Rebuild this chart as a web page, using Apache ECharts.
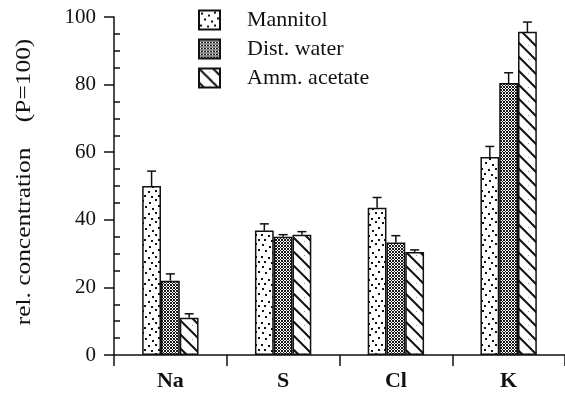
<!DOCTYPE html>
<html>
<head>
<meta charset="utf-8">
<script src="https://cdn.jsdelivr.net/npm/echarts@6/dist/echarts.min.js"></script>
<style>
  html, body { margin: 0; padding: 0; background: #fff; }
  #chart { width: 565px; height: 399px; }
</style>
</head>
<body>
<div id="chart"></div>
<script>
// Element groups and the three extraction media
const categories = ['Na', 'S', 'Cl', 'K'];
const seriesNames = ['Mannitol', 'Dist. water', 'Amm. acetate'];

// Relative concentration (P = 100)
const mannitol   = [50.0, 36.8, 43.6, 58.6];
const distWater  = [22.0, 35.0, 33.3, 80.5];
const ammAcetate = [11.0, 35.6, 30.5, 95.6];

// Upper error bar extents
const mannitolErr   = [4.4, 2.0, 3.0, 3.1];
const distWaterErr  = [2.0, 0.6, 2.0, 3.0];
const ammAcetateErr = [1.2, 0.9, 0.6, 2.9];

// Axis range and ticks
const yMin = 0, yMax = 100, yMajor = 20, yMinor = 5;
const minorTickValues = [5, 10, 15, 25, 30, 35, 45, 50, 55, 65, 70, 75, 85, 90, 95];

const serif = '"Liberation Serif", "Times New Roman", serif';
const ink = '#111';

function makeTile(w, h, draw) {
  const c = document.createElement('canvas');
  c.width = w; c.height = h;
  const g = c.getContext('2d');
  g.fillStyle = '#fff';
  g.fillRect(0, 0, w, h);
  draw(g, w, h);
  return c;
}

// Sparse stipple fill
const stippleDots = [[2,2],[9,4],[15,1],[5,8],[12,10],[18,7],[1,14],[8,15],[15,14],[4,19],[11,20],[18,19]];
const stippleTile = makeTile(20, 22, (g) => {
  g.fillStyle = ink;
  stippleDots.forEach(([x, y]) => g.fillRect(x, y, 2, 2));
});

// Dense mesh fill
const meshTile = makeTile(3, 3, (g) => {
  g.fillStyle = '#1a1a1a';
  [[0,0],[1,1],[2,2],[2,0],[0,2]].forEach(([x, y]) => g.fillRect(x, y, 1, 1));
});

// Descending diagonal hatch
const hatchTile = makeTile(14, 14, (g, w, h) => {
  g.strokeStyle = ink;
  g.lineWidth = 2;
  for (let x0 = -w; x0 <= w; x0 += w) {
    g.beginPath();
    g.moveTo(x0 - 1, -1);
    g.lineTo(x0 + w + 1, h + 1);
    g.stroke();
  }
  g.fillStyle = '#999';
  g.fillRect(10, 3, 1, 1);
});

const fills = [
  { image: stippleTile, repeat: 'repeat' },
  { image: meshTile, repeat: 'repeat' },
  { image: hatchTile, repeat: 'repeat' }
];

const values = [mannitol, distWater, ammAcetate];
const errors = [mannitolErr, distWaterErr, ammAcetateErr];

const barSeries = seriesNames.map((name, k) => ({
  type: 'bar',
  name: name,
  data: values[k],
  barGap: '0%',
  barCategoryGap: '50%',
  itemStyle: { color: fills[k], borderColor: ink, borderWidth: 1.5 },
  z: 2
}));

const errorSeries = seriesNames.map((name, k) => ({
  type: 'custom',
  data: categories.map((c, j) => [j, values[k][j], errors[k][j]]),
  encode: { x: 0, y: 1 },
  z: 3,
  silent: true,
  renderItem: function (params, api) {
    const cat = api.value(0);
    const v = api.value(1);
    const e = api.value(2);
    const base = api.coord([cat, v]);
    const top = api.coord([cat, v + e]);
    const bw = api.size([1, 0])[0] * 0.5 / 3;
    const x = base[0] + (k - 1) * bw;
    const st = { stroke: ink, lineWidth: 1.5 };
    return {
      type: 'group',
      children: [
        { type: 'line', shape: { x1: x, y1: base[1], x2: x, y2: top[1] }, style: st },
        { type: 'line', shape: { x1: x - 4.5, y1: top[1], x2: x + 4.5, y2: top[1] }, style: st }
      ]
    };
  }
}));

const chart = echarts.init(document.getElementById('chart'), null, { renderer: 'canvas' });
chart.setOption({
  animation: false,
  backgroundColor: '#fff',
  grid: { left: 114, right: 0, top: 17, bottom: 44, containLabel: false },
  legend: {
    data: seriesNames,
    orient: 'vertical',
    left: 198,
    top: 9,
    padding: 0,
    itemWidth: 21,
    itemHeight: 19,
    itemGap: 7,
    icon: 'rect',
    selectedMode: false,
    textStyle: { fontFamily: serif, fontSize: 22, color: ink, padding: [0, 0, 0, 22], lineHeight: 20 }
  },
  xAxis: {
    type: 'category',
    data: categories,
    boundaryGap: true,
    axisLine: { lineStyle: { color: ink, width: 1.5 } },
    axisTick: { show: true, length: 11, alignWithLabel: false, lineStyle: { color: ink, width: 1.5 } },
    axisLabel: { fontFamily: serif, fontWeight: 'bold', fontSize: 22, color: ink, margin: 15 },
    splitLine: { show: false }
  },
  yAxis: [
    {
      type: 'value',
      min: yMin,
      max: yMax,
      interval: yMajor,
      axisLine: { show: true, lineStyle: { color: ink, width: 1.5 } },
      axisTick: { show: true, length: 10, lineStyle: { color: ink, width: 1.5 } },
      axisLabel: { fontFamily: serif, fontSize: 21, color: ink, margin: 18 },
      splitLine: { show: false }
    },
    {
      type: 'value',
      position: 'left',
      min: yMin,
      max: yMax,
      interval: yMinor,
      axisLine: { show: false },
      axisTick: { show: true, inside: true, length: 6, customValues: minorTickValues, lineStyle: { color: ink, width: 1.5 } },
      axisLabel: { show: false },
      splitLine: { show: false }
    }
  ],
  graphic: [
    {
      type: 'text',
      x: 25,
      y: 182,
      rotation: Math.PI / 2,
      scaleX: 1.27,
      style: {
        text: 'rel. concentration    (P=100)',
        fontFamily: serif,
        fontSize: 20,
        fill: ink,
        align: 'center',
        verticalAlign: 'middle'
      }
    }
  ],
  series: barSeries.concat(errorSeries)
});
</script>
</body>
</html>
